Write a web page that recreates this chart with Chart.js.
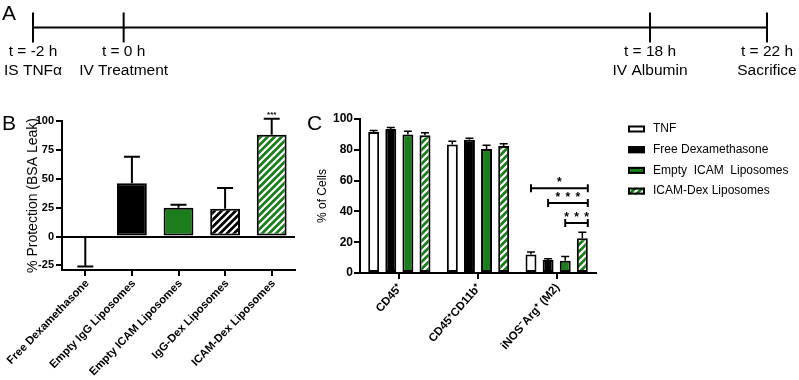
<!DOCTYPE html>
<html lang="en">
<head>
    <meta charset="UTF-8">
    <title>Timeline, vascular protection and lung cell populations</title>
    <script src="https://cdn.jsdelivr.net/npm/chart.js"></script>
    <style>
        body { margin: 0; background: #fff; width: 799px; height: 380px; position: relative; overflow: hidden; }
        canvas { position: absolute; }
        #timeline { left: 0; top: 0; }
        #protection { left: 0; top: 100px; }
        #cells { left: 300px; top: 100px; }
    </style>
</head>
<body>
    <canvas id="timeline" width="799" height="95"></canvas>
    <canvas id="protection" width="310" height="280"></canvas>
    <canvas id="cells" width="499" height="280"></canvas>

    <script>
        // Panel A - timeline
        const timelineHours = [-2, 0, 18, 22];
        const timelineTimes = ['t = -2 h', 't = 0 h', 't = 18 h', 't = 22 h'];
        const timelineEvents = ['IS TNFα', 'IV Treatment', 'IV Albumin', 'Sacrifice'];

        // Panel B - % protection
        const protectionGroups = ['Free Dexamethasone', 'Empty IgG Liposomes', 'Empty ICAM Liposomes', 'IgG-Dex Liposomes', 'ICAM-Dex Liposomes'];
        const protectionMeans = [-1, 46, 25, 24, 88];
        const protectionErrors = [25, 23, 2.5, 18, 14];
        const protectionStars = ['', '', '', '', '***'];
        const protectionTicks = [-25, 0, 25, 50, 75, 100];

        // Panel C - % of cells
        const cellCategories = ['CD45⁺', 'CD45⁺CD11b⁺', 'iNOS⁻Arg⁺ (M2)'];
        const cellSeries = ['TNF', 'Free Dexamethasone', 'Empty  ICAM  Liposomes', 'ICAM-Dex Liposomes'];
        const tnfCells = [91.5, 83.5, 12];
        const tnfErrors = [1, 2, 1.7];
        const freeDexCells = [93.5, 86.5, 8.5];
        const freeDexErrors = [1, 1, 0.8];
        const emptyIcamCells = [90, 80.5, 8];
        const emptyIcamErrors = [2, 2.5, 2.7];
        const icamDexCells = [89.5, 82.5, 22.5];
        const icamDexErrors = [1.5, 1.5, 4];
        const cellTicks = [0, 20, 40, 60, 80, 100];

        // significance brackets in the M2 group (series index from -> to)
        const bracketCategory = 2;
        const bracketFrom = [0, 1, 2];
        const bracketTo = [3, 3, 3];
        const bracketLevels = [55, 45.5, 32.5];
        const bracketStars = ['*', '***', '***'];

        const FONT = '"Liberation Sans", Arial, Helvetica, sans-serif';
        const GREEN = '#1b7d1b';
        const PRE_STRETCH = 1.55; // pre-treatment part of the timeline is drawn wider

        Chart.defaults.font.family = FONT;
        Chart.defaults.color = '#000';

        function hatch(base) {
            const c = document.createElement('canvas');
            c.width = 7; c.height = 7;
            const g = c.getContext('2d');
            g.fillStyle = base;
            g.fillRect(0, 0, 7, 7);
            g.strokeStyle = '#fff';
            g.lineWidth = 2.2;
            g.beginPath();
            g.moveTo(0, 7); g.lineTo(7, 0);
            g.moveTo(-1, 1); g.lineTo(1, -1);
            g.moveTo(6, 8); g.lineTo(8, 6);
            g.stroke();
            return g.createPattern(c, 'repeat');
        }
        const hatchGreen = hatch(GREEN);
        const hatchBlack = hatch('#000');

        class StretchedScale extends Chart.LinearScale {
            getPixelForValue(value) {
                return super.getPixelForValue(value < 0 ? value * PRE_STRETCH : value);
            }
        }
        StretchedScale.id = 'stretched';
        StretchedScale.defaults = Chart.LinearScale.defaults;
        Chart.register(StretchedScale);

        // panel letters
        const panelLetter = {
            id: 'panelLetter',
            afterDraw(chart, args, opts) {
                const ctx = chart.ctx;
                ctx.save();
                ctx.font = '21px ' + FONT;
                ctx.fillStyle = '#000';
                ctx.textBaseline = 'alphabetic';
                ctx.fillText(opts.text, opts.x, opts.y);
                ctx.restore();
            }
        };

        // one-sided error bars (away from zero), like GraphPad
        const errorBars = {
            id: 'errorBars',
            afterDatasetsDraw(chart, args, opts) {
                const ctx = chart.ctx;
                const y = chart.scales.y;
                ctx.save();
                ctx.strokeStyle = '#000';
                ctx.lineWidth = opts.lineWidth;
                chart.data.datasets.forEach((ds, i) => {
                    const meta = chart.getDatasetMeta(i);
                    meta.data.forEach((bar, j) => {
                        const v = ds.data[j];
                        const end = v + (v < 0 ? -ds.errors[j] : ds.errors[j]);
                        const yEnd = y.getPixelForValue(end);
                        ctx.beginPath();
                        ctx.moveTo(bar.x, bar.y);
                        ctx.lineTo(bar.x, yEnd);
                        ctx.moveTo(bar.x - opts.cap / 2, yEnd);
                        ctx.lineTo(bar.x + opts.cap / 2, yEnd);
                        ctx.stroke();
                        if (ds.stars && ds.stars[j]) {
                            ctx.font = 'bold 8px ' + FONT;
                            ctx.textAlign = 'center';
                            ctx.textBaseline = 'alphabetic';
                            ctx.fillStyle = '#000';
                            ctx.fillText(ds.stars[j], bar.x, yEnd - 2);
                        }
                    });
                });
                ctx.restore();
            }
        };

        // ---------- A: timeline ----------
        new Chart(document.getElementById('timeline'), {
            type: 'scatter',
            data: {
                datasets: [{
                    data: [{ x: timelineHours[0], y: 0 }, { x: timelineHours[timelineHours.length - 1], y: 0 }],
                    showLine: true,
                    borderColor: '#000',
                    borderWidth: 2,
                    pointRadius: 0,
                    clip: false
                }, {
                    data: timelineHours.map(h => ({ x: h, y: 0 })),
                    pointStyle: 'line',
                    rotation: 90,
                    pointRadius: 15,
                    borderColor: '#000',
                    borderWidth: 2,
                    clip: false
                }]
            },
            options: {
                responsive: false,
                animation: false,
                events: [],
                layout: { padding: { left: 33, right: 32, top: 8, bottom: 57 } },
                plugins: {
                    legend: { display: false },
                    tooltip: { enabled: false },
                    panelLetter: { text: 'A', x: 2, y: 20 }
                },
                scales: {
                    x: { type: 'stretched', display: false, min: timelineHours[0] * PRE_STRETCH, max: timelineHours[timelineHours.length - 1] },
                    y: { display: false, min: -1, max: 1 }
                }
            },
            plugins: [panelLetter, {
                id: 'timelineLabels',
                afterDraw(chart) {
                    const ctx = chart.ctx;
                    ctx.save();
                    ctx.font = '15.5px ' + FONT;
                    ctx.fillStyle = '#000';
                    ctx.textAlign = 'center';
                    ctx.textBaseline = 'middle';
                    timelineHours.forEach((h, i) => {
                        const x = chart.scales.x.getPixelForValue(h);
                        ctx.fillText(timelineTimes[i], x, 52);
                        ctx.fillText(timelineEvents[i], x, 71);
                    });
                    ctx.restore();
                }
            }]
        });

        // ---------- B: % protection ----------
        new Chart(document.getElementById('protection'), {
            type: 'bar',
            data: {
                labels: protectionGroups,
                datasets: [{
                    data: protectionMeans,
                    errors: protectionErrors,
                    stars: protectionStars,
                    backgroundColor: ['#ffffff', '#000000', GREEN, hatchBlack, hatchGreen],
                    borderColor: '#000',
                    borderWidth: 2,
                    borderSkipped: false,
                    barPercentage: 0.64,
                    categoryPercentage: 1
                }]
            },
            options: {
                responsive: false,
                animation: false,
                events: [],
                layout: { padding: { left: 20, right: 15, top: 21, bottom: 0 } },
                plugins: {
                    legend: { display: false },
                    tooltip: { enabled: false },
                    panelLetter: { text: 'B', x: 2, y: 30 },
                    errorBars: { lineWidth: 2, cap: 16 }
                },
                scales: {
                    x: {
                        grid: { drawOnChartArea: false, offset: false, color: '#000', lineWidth: 2, tickLength: 6 },
                        border: { color: '#000', width: 2 },
                        ticks: { font: { size: 11.2, weight: 'bold' }, minRotation: 46, maxRotation: 46, autoSkip: false, padding: 1, labelOffset: 2 },
                        afterFit: s => { s.height = 110; s.paddingLeft = 0; s.paddingRight = 0; }
                    },
                    y: {
                        min: -29,
                        max: 100,
                        afterBuildTicks: s => { s.ticks = protectionTicks.map(v => ({ value: v })); },
                        grid: {
                            color: c => (c.tick && c.tick.value === 0) ? '#000' : 'rgba(0,0,0,0)',
                            tickColor: '#000',
                            lineWidth: 2,
                            tickLength: 6
                        },
                        border: { color: '#000', width: 2 },
                        ticks: { font: { size: 11, weight: 'bold' }, padding: 2 },
                        title: { display: true, text: '% Protection (BSA Leak)', font: { size: 14 }, padding: { top: 4.5, bottom: 0 } },
                        afterFit: s => { s.width = 42; }
                    }
                }
            },
            plugins: [panelLetter, errorBars]
        });

        // ---------- C: % of cells ----------
        new Chart(document.getElementById('cells'), {
            type: 'bar',
            data: {
                labels: cellCategories,
                datasets: [
                    { label: cellSeries[0], data: tnfCells, errors: tnfErrors, backgroundColor: '#ffffff' },
                    { label: cellSeries[1], data: freeDexCells, errors: freeDexErrors, backgroundColor: '#000000' },
                    { label: cellSeries[2], data: emptyIcamCells, errors: emptyIcamErrors, backgroundColor: GREEN },
                    { label: cellSeries[3], data: icamDexCells, errors: icamDexErrors, backgroundColor: hatchGreen }
                ].map(d => Object.assign(d, {
                    borderColor: '#000',
                    borderWidth: 2,
                    borderSkipped: false,
                    barPercentage: 0.64,
                    categoryPercentage: 0.87
                }))
            },
            options: {
                responsive: false,
                animation: false,
                events: [],
                layout: { padding: { left: 12, right: 203, top: 19, bottom: 0 } },
                plugins: {
                    legend: { display: false },
                    tooltip: { enabled: false },
                    panelLetter: { text: 'C', x: 7, y: 30 },
                    errorBars: { lineWidth: 1.5, cap: 8 }
                },
                scales: {
                    x: {
                        grid: { drawOnChartArea: false, offset: false, color: '#000', lineWidth: 2, tickLength: 6 },
                        border: { color: '#000', width: 2 },
                        ticks: { font: { size: 11.5, weight: 'bold' }, minRotation: 49, maxRotation: 49, autoSkip: false, padding: 2, labelOffset: 1 },
                        afterFit: s => { s.height = 107; s.paddingLeft = 0; s.paddingRight = 0; }
                    },
                    y: {
                        min: 0,
                        max: 100,
                        afterBuildTicks: s => { s.ticks = cellTicks.map(v => ({ value: v })); },
                        grid: { drawOnChartArea: false, color: '#000', lineWidth: 2, tickLength: 6 },
                        border: { color: '#000', width: 2 },
                        ticks: { font: { size: 12, weight: 'bold' }, padding: 1 },
                        title: { display: true, text: '% of Cells', font: { size: 12 }, padding: { top: 3, bottom: 0 } },
                        afterFit: s => { s.width = 48; }
                    }
                }
            },
            plugins: [panelLetter, errorBars, {
                id: 'bracketsAndLegend',
                afterDraw(chart) {
                    const ctx = chart.ctx;
                    const y = chart.scales.y;
                    ctx.save();
                    ctx.strokeStyle = '#000';
                    ctx.fillStyle = '#000';
                    ctx.lineWidth = 2;
                    bracketLevels.forEach((level, i) => {
                        const a = chart.getDatasetMeta(bracketFrom[i]).data[bracketCategory];
                        const b = chart.getDatasetMeta(bracketTo[i]).data[bracketCategory];
                        const x0 = a.x;
                        const x1 = b.x + b.width / 2;
                        const yy = y.getPixelForValue(level);
                        ctx.beginPath();
                        ctx.moveTo(x0, yy); ctx.lineTo(x1, yy);
                        ctx.moveTo(x0, yy - 4); ctx.lineTo(x0, yy + 4);
                        ctx.moveTo(x1, yy - 4); ctx.lineTo(x1, yy + 4);
                        ctx.stroke();
                        ctx.font = 'bold 12px ' + FONT;
                        ctx.textAlign = 'center';
                        ctx.textBaseline = 'alphabetic';
                        const stars = bracketStars[i].split('');
                        const mid = (x0 + x1) / 2;
                        stars.forEach((s, k) => {
                            ctx.fillText(s, mid + (k - (stars.length - 1) / 2) * 10, yy - 2);
                        });
                    });

                    // legend
                    ctx.lineWidth = 2;
                    ctx.font = '12px ' + FONT;
                    ctx.textAlign = 'left';
                    ctx.textBaseline = 'middle';
                    chart.data.datasets.forEach((ds, i) => {
                        const ry = 29 + i * 20.7;
                        ctx.fillStyle = ds.backgroundColor;
                        ctx.fillRect(328, ry - 3.5, 17, 7);
                        ctx.strokeRect(329, ry - 2.5, 15, 5);
                        ctx.fillStyle = '#000';
                        ctx.fillText(ds.label, 353, ry);
                    });
                    ctx.restore();
                }
            }]
        });
    </script>
</body>
</html>
